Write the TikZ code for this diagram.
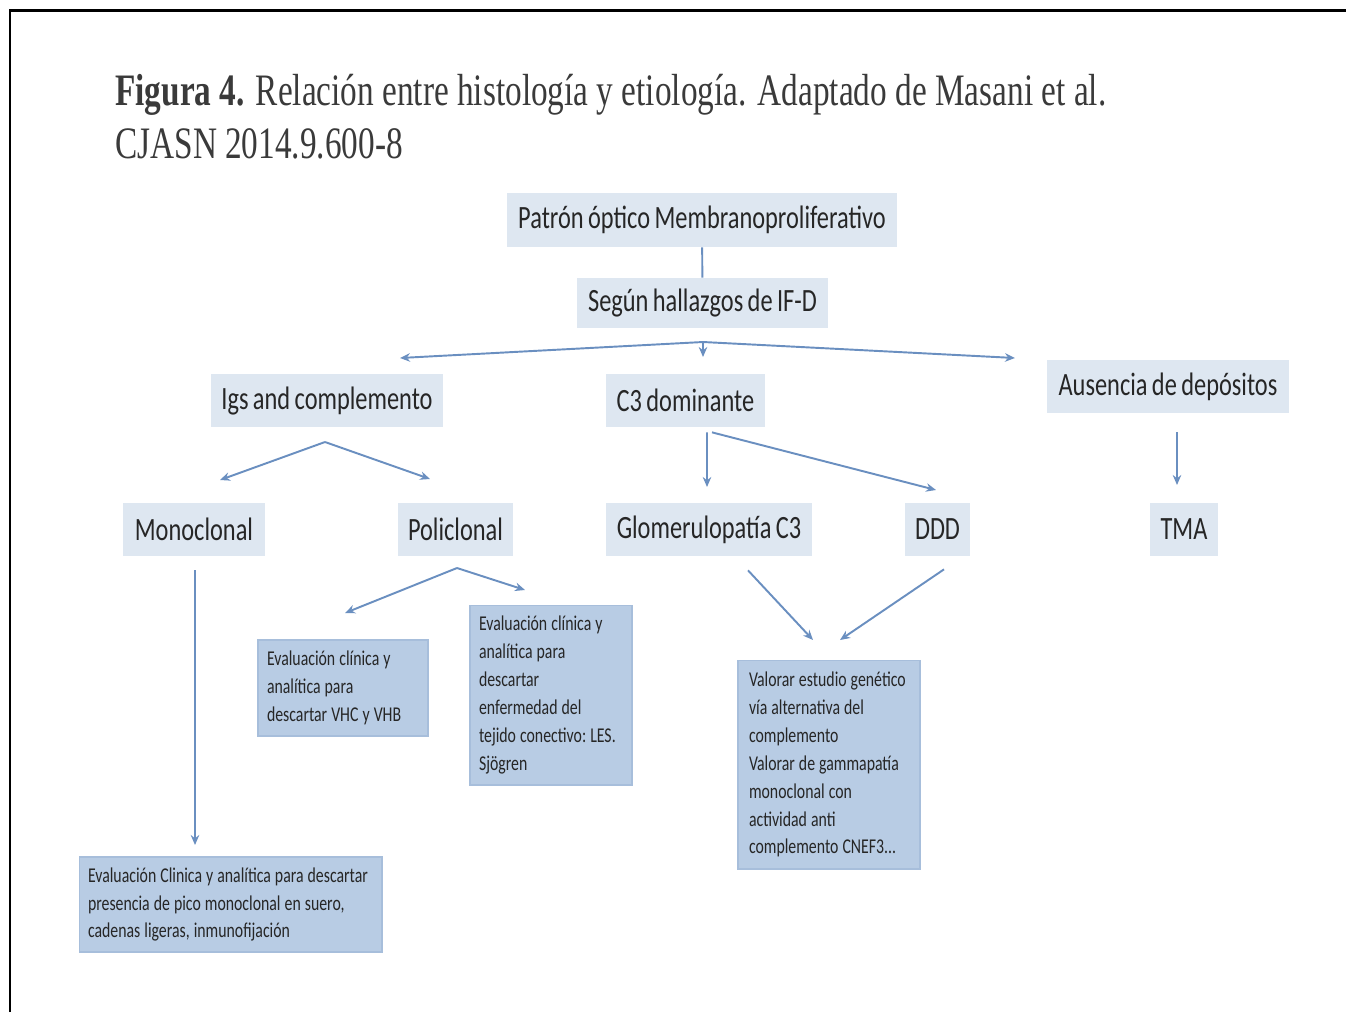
\documentclass[tikz,border=0pt]{standalone}
\usepackage{fontspec}
\setmainfont{Carlito}[FakeStretch=0.75, WordSpace=0.8]
\newfontfamily\notefont{Carlito}[FakeStretch=0.75]
\newfontfamily\titlefont{Liberation Serif}[FakeStretch=0.74]
\usepackage{tikz}
\usetikzlibrary{arrows.meta,calc}
\definecolor{cLight}{HTML}{DEE7F1}
\definecolor{cDeep}{HTML}{B8CCE4}
\definecolor{cDeepLine}{HTML}{A7BEDB}
\definecolor{cArrow}{HTML}{6A8FC0}
\definecolor{cText}{HTML}{262626}
\definecolor{cTitle}{HTML}{3A3A3A}
\tikzset{
  tag/.style={fill=cLight, text=cText, inner sep=0pt, minimum height=1.06cm,
              font=\fontsize{18.5}{22}\selectfont},
  note/.style={fill=cDeep, draw=cDeepLine, line width=0.6pt, text=cText,
               align=left, inner xsep=0.18cm, inner ysep=0pt,
               font=\notefont\fontsize{12}{15.9}\selectfont,
               execute at begin node={\hyphenpenalty=10000\relax
                 \spaceskip=2.3pt\relax\xspaceskip=2.3pt\relax}},
  flow/.style={-{Stealth[length=2mm, width=1.7mm]}, line width=1.1pt, draw=cArrow},
  link/.style={line width=1.1pt, draw=cArrow},
}
\begin{document}
\begin{tikzpicture}[x=0.02cm, y=-0.02cm]
  \useasboundingbox (0,0) rectangle (1346,1012);
  % frame
  \draw[line width=1.7pt] (10,1012) -- (10,10) -- (1346,10);

  % title
  \node[anchor=base west, inner sep=0pt, text=cTitle,
        font=\titlefont\fontsize{25.6}{30}\selectfont] (title) at (115,105)
    {\textbf{Figura 4.} Relación entre histología y etiología. Adaptado de Masani et al.};
  \node[anchor=base west, inner sep=0pt, text=cTitle,
        font=\titlefont\fontsize{25.6}{30}\selectfont] (titlesub) at (115,158)
    {CJASN 2014.9.600-8};

  % top of the tree
  \node[tag, minimum width=7.8cm, minimum height=1.08cm] (patron) at (702,220) {Patrón óptico Membranoproliferativo};
  \node[tag, minimum width=5.02cm, minimum height=1.0cm] (segun) at (702.5,303) {Según hallazgos de IF-D};

  % deposit types
  \node[tag, minimum width=4.64cm] (igs) at (327,400.5) {Igs and complemento};
  \node[tag, minimum width=3.18cm] (c3dom) at (685.5,400.5) {C3 dominante};
  \node[tag, minimum width=4.84cm] (ausencia) at (1168,386.5) {Ausencia de depósitos};

  % diagnoses
  \node[tag, minimum width=2.84cm] (mono) at (194,529.5) {Monoclonal};
  \node[tag, minimum width=2.3cm] (poli) at (455.5,529.5) {Policlonal};
  \node[tag, minimum width=4.12cm] (glom) at (709,529.5) {Glomerulopatía C3};
  \node[tag, minimum width=1.3cm] (ddd) at (937.5,529.5) {DDD};
  \node[tag, minimum width=1.36cm] (tma) at (1184,529.5) {TMA};

  % work-up notes
  \node[note, text width=3.04cm, minimum height=1.92cm] (vhc) at (343,688)
    {Evaluación clínica y\\analítica para\\descartar VHC y VHB};
  \node[note, text width=2.88cm, minimum height=3.6cm] (les) at (551,695)
    {Evaluación clínica y\\analítica para\\descartar\\enfermedad del\\tejido conectivo: LES.\\Sjögren};
  \node[note, text width=3.2cm, inner xsep=0.22cm, minimum height=4.18cm] (valorar) at (829,764.5)
    {Valorar estudio genético\\vía alternativa del\\complemento\\Valorar de gammapatía\\monoclonal con\\actividad anti\\complemento CNEF3...};
  \node[note, text width=5.7cm, minimum height=1.9cm] (clinica) at (230.5,904.5)
    {Evaluación Clinica y analítica para descartar\\presencia de pico monoclonal en suero,\\cadenas ligeras, inmunofijación};

  % free ends of the connectors
  \coordinate (forkSegun) at (703,342);
  \coordinate (tipIgs) at (400,358);
  \coordinate (tipC3) at (703,357);
  \coordinate (tipAus) at (1015,358);
  \coordinate (forkIgs) at (325,442);
  \coordinate (tipMono) at (220,480);
  \coordinate (tipPoli) at (430,479);
  \coordinate (tipGlom) at (707,487);
  \coordinate (tipDdd) at (936,490);
  \coordinate (tipTma) at (1177,485);
  \coordinate (forkPoli) at (457,568);
  \coordinate (tipVhc) at (345,613);
  \coordinate (tipLes) at (525,590);
  \coordinate (tipValA) at (813,640);
  \coordinate (tipValB) at (840,640);
  \coordinate (tipClin) at (195,845);

  \draw[link] (patron) -- (segun);
  \draw[flow] (forkSegun) -- (tipIgs);
  \draw[flow] (forkSegun) -- (tipC3);
  \draw[flow] (forkSegun) -- (tipAus);
  \draw[flow] (forkIgs) -- (tipMono);
  \draw[flow] (forkIgs) -- (tipPoli);
  \draw[flow] ($(c3dom.south)+(21.5,5)$) -- (tipGlom);
  \draw[flow] ($(c3dom.south)+(26.5,5)$) -- (tipDdd);
  \draw[flow] ($(ausencia.south)+(9,19)$) -- (tipTma);
  \draw[flow] ($(mono.south)+(1,14)$) -- (tipClin);
  \draw[flow] (forkPoli) -- (tipVhc);
  \draw[flow] (forkPoli) -- (tipLes);
  \draw[flow] ($(glom.south)+(39,14)$) -- (tipValA);
  \draw[flow] ($(ddd.south)+(6.5,13)$) -- (tipValB);
\end{tikzpicture}
\end{document}
